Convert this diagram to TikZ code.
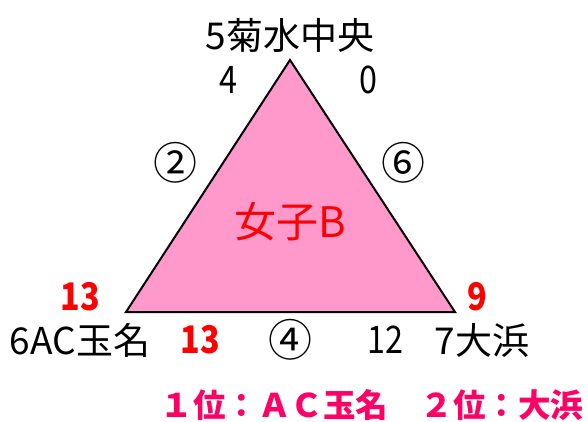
\documentclass[tikz,border=0pt]{standalone}
\usepackage{fontspec}
\setmainfont{Noto Sans CJK JP}
\newfontfamily\narrowfont[FakeStretch=0.85]{Noto Sans CJK JP}
\definecolor{tripink}{HTML}{FF99CC}
\definecolor{redtxt}{HTML}{FF0000}
\definecolor{magtxt}{HTML}{FF0066}
\tikzset{
  lbl/.style={inner sep=0pt, font=\narrowfont\fontsize{38}{40}\selectfont, text=black},
  sitelbl/.style={inner sep=0pt, font=\fontsize{37}{39}\selectfont, text=black},
  circ/.style={inner sep=0pt, font=\fontsize{44}{46}\selectfont, text=black},
  redlbl/.style={inner sep=0pt, font=\narrowfont\fontsize{38}{40}\selectfont\bfseries, text=redtxt},
  res/.style={inner sep=0pt, font=\fontsize{32.5}{34}\selectfont\bfseries, text=magtxt}
}
\begin{document}
\begin{tikzpicture}[x=1pt,y=-1pt]
\useasboundingbox (0,0) rectangle (588,421);
\coordinate (apex) at (290,60);
\coordinate (bl) at (126,312);
\coordinate (br) at (455,312);
\draw[fill=tripink, line width=2pt, line join=miter] (apex) -- (bl) -- (br) -- cycle;
\node[sitelbl] (top) at (290,35) {5菊水中央};
\node[lbl] (a4) at (228,80) {4};
\node[lbl] (a0) at (368,80) {0};
\node[circ] (c2) at (175,163) {②};
\node[circ] (c6) at (403,163) {⑥};
\node[inner sep=0pt, font=\fontsize{42}{44}\selectfont, text=redtxt] (team) at (290,222) {女子B};
\node[redlbl] (r13a) at (80,297) {13};
\node[redlbl] (r9) at (477,297) {9};
\node[sitelbl] (left) at (80,340) {6AC玉名};
\node[redlbl] (r13b) at (200,340) {13};
\node[circ] (c4) at (290,340) {④};
\node[lbl] (b12) at (385,340) {12};
\node[sitelbl] (right) at (482,340) {7大浜};
\node[res] (result) at (372,405) {１位：ＡＣ玉名　２位：大浜};
\end{tikzpicture}
\end{document}
